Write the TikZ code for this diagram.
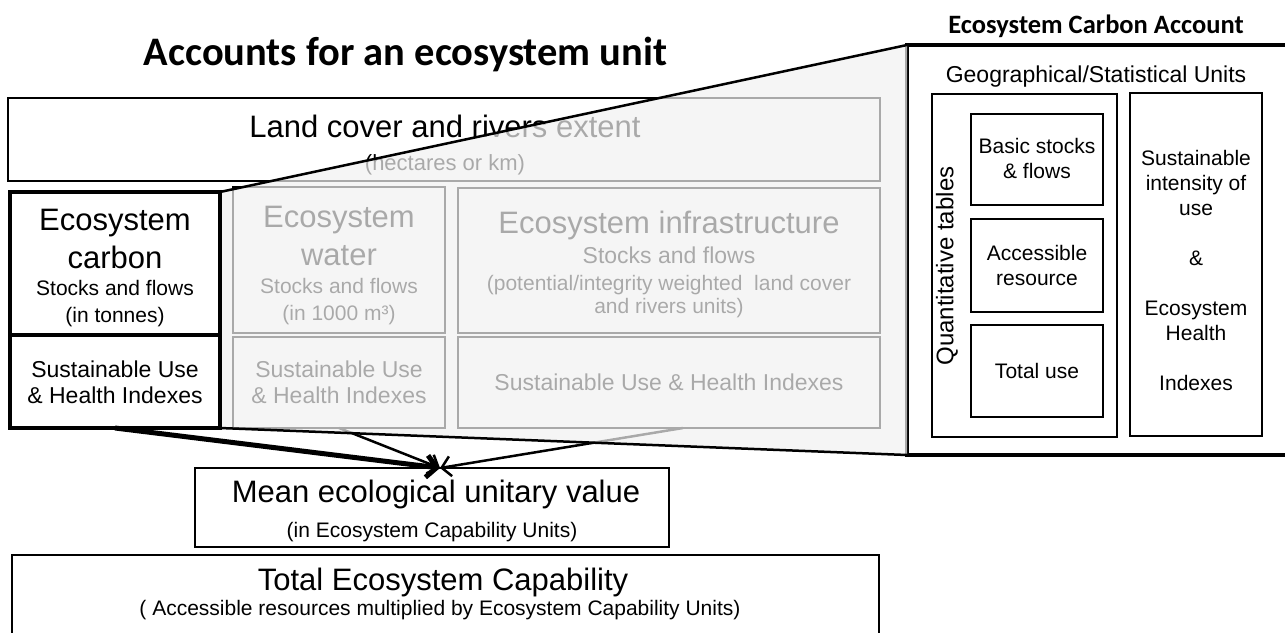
\documentclass[tikz,border=0pt]{standalone}
\usepackage{fontspec}
\setmainfont{Liberation Sans}
\newfontfamily\calfont{Carlito}
\usetikzlibrary{arrows.meta}
\definecolor{veil}{HTML}{F2F2F2}
\newcommand\fsz[1]{\fontsize{#1}{#1}\selectfont}
\newcommand\mkbox[6][]{\node[#1, anchor=north west, minimum width={(#5-#3)*1pt}, minimum height={(#6-#4)*1pt}] (#2) at (#3,#4) {};}
\begin{document}
\begin{tikzpicture}[x=1pt,y=-1pt,
  t/.style={anchor=base, inner sep=0pt},
  big/.style={t, font=\fsz{31}},
  mid/.style={t, font=\fsz{23}},
  sml/.style={t, font=\fsz{21}},
  thinbox/.style={draw, line width=1.5pt, fill=white, inner sep=0pt, outer sep=0pt},
  thickbox/.style={draw, line width=4.5pt, fill=white, inner sep=0pt, outer sep=0pt},
  panelbox/.style={draw, line width=3.5pt, inner sep=0pt, outer sep=0pt},
  innerbox/.style={draw, line width=2pt, inner sep=0pt, outer sep=0pt},
  arr/.style={line width=2.5pt, -{Straight Barb[length=9pt,width=20pt]}},
  thickarr/.style={line width=5pt, -{Straight Barb[length=10pt,width=22pt]}},
  edge/.style={line width=2.5pt, line cap=round}]
\useasboundingbox (0,0) rectangle (1285,632);
\clip (0,0) rectangle (1285,632);
\fill[white] (0,0) rectangle (1285,632);

% titles
\node[t, font=\calfont\bfseries\fsz{40.5}] (title) at (405.5,65) {Accounts for an ecosystem unit};
\node[t, font=\calfont\bfseries\fsz{26.5}] (ecatitle) at (1096,33) {Ecosystem Carbon Account};

% land cover
\mkbox[thinbox]{land}{8}{98}{880}{181}
\node[big] (landt) at (445,137) {Land cover and rivers extent};
\node[mid, font=\fsz{22}] (lands) at (445,170) {(hectares or km)};

% water
\mkbox[thinbox]{wat}{233}{187}{445}{333}
\mkbox[thinbox]{watsu}{233}{337}{445}{428}
\node[big] (w1) at (339,227) {Ecosystem};
\node[big] (w2) at (339,265) {water};
\node[sml] (w3) at (339,293) {Stocks and flows};
\node[sml] (w4) at (339,320) {(in 1000 m³)};
\node[mid] (w5) at (339,377) {Sustainable Use};
\node[mid] (w6) at (339,403) {\& Health Indexes};

% infrastructure
\mkbox[thinbox]{inf}{458}{188}{880}{333}
\mkbox[thinbox]{infsu}{458}{337}{880}{428}
\node[big] (i1) at (669,233) {Ecosystem infrastructure};
\node[mid] (i2) at (669,263) {Stocks and flows};
\node[sml] (i3) at (669,290) {(potential/integrity weighted\ \ land cover};
\node[sml] (i4) at (669,313) {and rivers units)};
\node[mid] (i5) at (669,390) {Sustainable Use \& Health Indexes};

% mean box and arrows
\mkbox[thinbox]{mean}{195}{468}{669}{547}
\coordinate (tip) at (440,468);
\draw[arr] (watsu.south) -- (tip);
\draw[arr] ([xshift=14pt]infsu.south) -- (tip);

% right panel
\mkbox[panelbox]{eca}{907}{45}{1300}{455}

% carbon
\mkbox[thickbox]{carb}{10}{192}{220}{335}
\mkbox[thickbox]{carbsu}{10}{335}{220}{428}

% veil
\fill[veil, fill opacity=0.7] (carb.north east) -- (eca.north west) -- (eca.south west) -- (carbsu.south east) -- cycle;
\draw[edge] (carb.north east) -- (eca.north west);
\draw[edge] (carbsu.south east) -- (eca.south west);

% carbon texts
\draw[thickbox, fill=none] (carb.north west) rectangle (carbsu.south east);
\draw[line width=4.5pt] (carb.south west) -- (carb.south east);
\node[big] (c1) at (115,230) {Ecosystem};
\node[big] (c2) at (115,268) {carbon};
\node[sml] (c3) at (115,295) {Stocks and flows};
\node[sml] (c4) at (115,322) {(in tonnes)};
\node[mid] (c5) at (115,377) {Sustainable Use};
\node[mid] (c6) at (115,403) {\& Health Indexes};
\draw[thickarr] (carbsu.south) -- (tip);

% mean texts
\node[big] (m1) at (436,502) {Mean ecological unitary value};
\node[sml] (m2) at (432,537) {(in Ecosystem Capability Units)};

% total
\mkbox[thinbox]{tot}{12}{555}{879}{650}
\node[big] (t1) at (443,590) {Total Ecosystem Capability};
\node[sml] (t2) at (440,615) {( Accessible resources multiplied by Ecosystem Capability Units)};

% right panel contents
\node[mid] (geo) at (1096,82) {Geographical/Statistical Units};
\mkbox[innerbox]{quant}{932}{94}{1117}{437}
\node[t, font=\fsz{24}, rotate=90, anchor=center] (qt) at (947,266) {Quantitative tables};
\mkbox[innerbox]{q1}{971}{114}{1103}{205}
\mkbox[innerbox]{q2}{971}{219}{1103}{312}
\mkbox[innerbox]{q3}{971}{325}{1103}{417}
\node[sml] (q1a) at (1037,153) {Basic stocks};
\node[sml] (q1b) at (1037,178) {\& flows};
\node[sml] (q2a) at (1037,260) {Accessible};
\node[sml] (q2b) at (1037,285) {resource};
\node[sml] (q3a) at (1037,378) {Total use};
\mkbox[innerbox]{sus}{1130}{93}{1262}{436}
\node[sml] (s1) at (1196,165) {Sustainable};
\node[sml] (s2) at (1196,190) {intensity of};
\node[sml] (s3) at (1196,215) {use};
\node[sml] (s4) at (1196,265) {\&};
\node[sml] (s5) at (1196,315) {Ecosystem};
\node[sml] (s6) at (1196,340) {Health};
\node[sml] (s7) at (1196,390) {Indexes};
\end{tikzpicture}
\end{document}
